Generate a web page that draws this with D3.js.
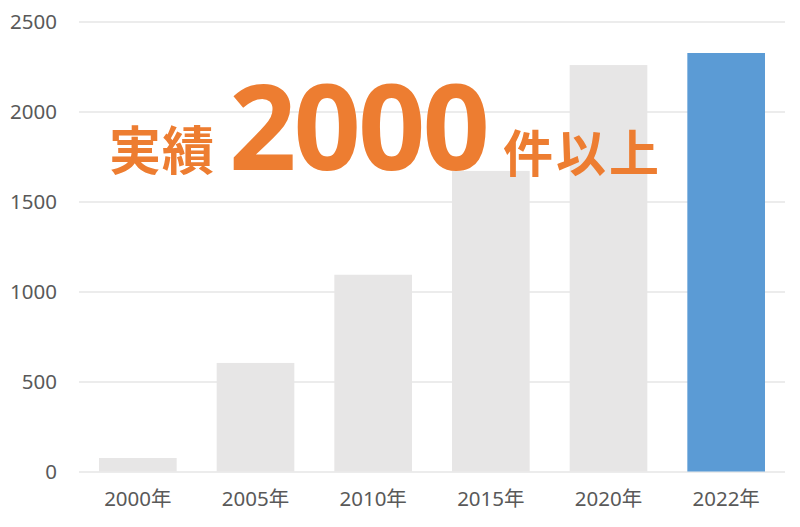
<!DOCTYPE html>
<html lang="ja">
<head>
  <meta charset="UTF-8">
  <title>実績 2000件以上</title>
  <script src="https://d3js.org/d3.v7.min.js"></script>
  <style>
    body { margin: 0; background: #fff; }
    svg { display: block; }
    .tick text { fill: #595959; font-family: "Noto Sans", "Noto Sans CJK JP", sans-serif; font-size: 20.5px; }
    .headline { fill: #ED7D31; font-weight: bold; }
  </style>
</head>
<body>
<svg width="800" height="527"></svg>

<script>
  // data
  const years = ["2000年", "2005年", "2010年", "2015年", "2020年", "2022年"];
  const counts = [75, 603, 1093, 1670, 2258, 2325];
  const yTicks = [0, 500, 1000, 1500, 2000, 2500];
  const highlight = "2022年";

  const svg = d3.select("svg");
  const margin = {top: 21.5, right: 15, bottom: 55.5, left: 79};
  const width = 800 - margin.left - margin.right,
        height = 527 - margin.top - margin.bottom;

  const g = svg.append("g")
    .attr("transform", `translate(${margin.left},${margin.top})`);

  const x = d3.scaleBand()
    .domain(years)
    .range([0, width])
    .paddingInner(0.34)
    .paddingOuter(0.17);

  const y = d3.scaleLinear()
    .domain([0, 2500])
    .range([height, 0]);

  // gridlines + y labels
  const yAxis = g.append("g")
    .call(d3.axisLeft(y).tickValues(yTicks).tickFormat(d3.format("d")).tickSize(-width).tickPadding(22));
  yAxis.select(".domain").remove();
  yAxis.selectAll(".tick line").attr("stroke", "#D9D9D9").attr("stroke-width", 1);

  // bars
  g.selectAll("rect.bar")
    .data(years.map((d, i) => ({year: d, value: counts[i]})))
    .join("rect")
    .attr("class", "bar")
    .attr("x", d => x(d.year))
    .attr("y", d => y(d.value))
    .attr("width", x.bandwidth())
    .attr("height", d => height - y(d.value))
    .attr("fill", d => d.year === highlight ? "#5B9BD5" : "#E7E6E6");

  // x labels
  const xAxis = g.append("g")
    .attr("transform", `translate(0,${height})`)
    .call(d3.axisBottom(x).tickSize(0).tickPadding(20));
  xAxis.select(".domain").remove();

  // headline overlay
  const head = svg.append("text")
    .attr("class", "headline")
    .attr("y", 170);

  head.append("tspan")
    .attr("x", 109)
    .attr("font-family", "'Noto Sans CJK JP', sans-serif")
    .attr("font-size", 52)
    .attr("letter-spacing", 1)
    .text("実績");

  head.append("tspan")
    .attr("x", 229)
    .attr("font-family", "'Noto Sans', sans-serif")
    .attr("font-size", 118)
    .attr("letter-spacing", -3)
    .text("2000");

  head.append("tspan")
    .attr("x", 503)
    .attr("dy", 2)
    .attr("font-family", "'Noto Sans CJK JP', sans-serif")
    .attr("font-size", 50)
    .attr("letter-spacing", 3)
    .text("件以上");
</script>
</body>
</html>
